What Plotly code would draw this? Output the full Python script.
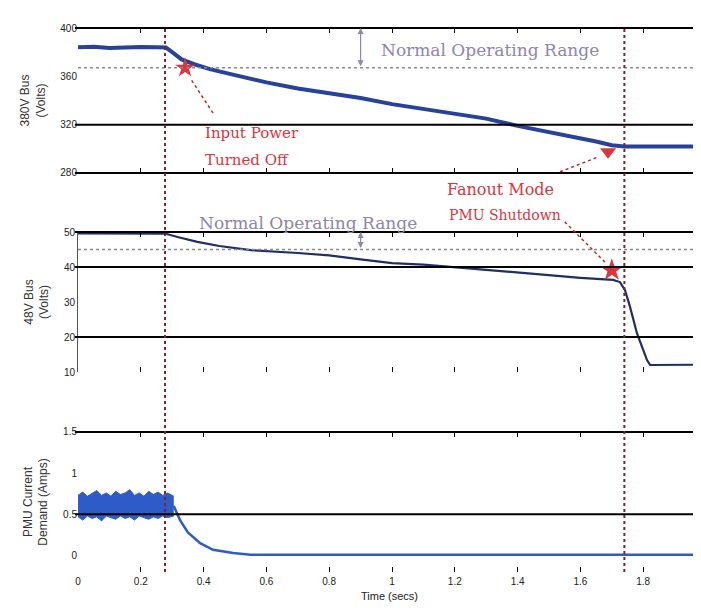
import plotly.graph_objects as go

# ---------------- data ----------------
t_380 = [0, 0.05, 0.10, 0.15, 0.20, 0.25, 0.28, 0.30, 0.33, 0.37, 0.42, 0.50, 0.60, 0.70,
         0.80, 0.90, 1.00, 1.10, 1.20, 1.30, 1.40, 1.50, 1.60, 1.65, 1.70, 1.74, 1.80, 1.90, 1.984]
v_380 = [384, 384.5, 383.5, 384, 384.3, 384, 383.8, 380, 374, 370, 366, 361, 355, 350,
         346, 342, 337, 333, 329, 325, 319, 314, 309, 306, 303, 302, 302, 302, 302]

t_48 = [0, 0.10, 0.20, 0.28, 0.32, 0.38, 0.45, 0.55, 0.70, 0.80, 0.90, 1.00, 1.10, 1.20,
        1.30, 1.40, 1.50, 1.60, 1.704, 1.726, 1.742, 1.758, 1.780, 1.812, 1.822, 1.90, 1.984]
v_48 = [49.6, 49.6, 49.5, 49.5, 48.5, 47.2, 46.0, 44.8, 44.0, 43.3, 42.2, 41.1, 40.7, 39.9,
        39.2, 38.5, 37.7, 36.9, 36.3, 35.7, 33.4, 28.6, 21.1, 13.4, 12.0, 12.1, 12.1]

t_band = [0, 0.015, 0.03, 0.045, 0.06, 0.075, 0.09, 0.105, 0.12, 0.135, 0.15, 0.165, 0.18,
          0.195, 0.21, 0.225, 0.24, 0.255, 0.27, 0.285, 0.305]
i_upper = [0.73, 0.77, 0.72, 0.75, 0.79, 0.73, 0.76, 0.72, 0.78, 0.74, 0.76, 0.80, 0.73,
           0.76, 0.72, 0.78, 0.74, 0.77, 0.73, 0.76, 0.72]
i_lower = [0.47, 0.43, 0.48, 0.45, 0.47, 0.42, 0.48, 0.46, 0.44, 0.48, 0.45, 0.47, 0.43,
           0.48, 0.46, 0.44, 0.47, 0.45, 0.48, 0.46, 0.48]

t_cur = [0.305, 0.325, 0.35, 0.389, 0.43, 0.494, 0.55, 0.70, 0.90, 1.10, 1.30, 1.50, 1.70, 1.90, 1.984]
i_cur = [0.60, 0.43, 0.28, 0.15, 0.07, 0.03, 0.01, 0.01, 0.01, 0.01, 0.01, 0.01, 0.01, 0.01, 0.01]

x_ticks = [0, 0.2, 0.4, 0.6, 0.8, 1.0, 1.2, 1.4, 1.6, 1.8]
x_ticklabels = ["0", "0.2", "0.4", "0.6", "0.8", "1", "1.2", "1.4", "1.6", "1.8"]
y380_ticks = [280, 320, 360, 400]
y48_ticks = [10, 20, 30, 40, 50]
ycur_ticks = [0, 0.5, 1, 1.5]
grid_380 = [400, 320, 280]
grid_48 = [50, 40, 20]
grid_cur = [1.5, 0.5]
normal_380 = 367
normal_48 = 45
t_events = [0.277, 1.74]

X_RANGE = [0, 1.984]
RANGES = {"top": [280, 400], "mid": [10, 50], "bot": [-0.2, 1.5]}
DOMAINS = {"top": [0.7335, 1.0], "mid": [0.3676, 0.625], "bot": [0.0, 0.2574]}

BLUE = "#27429a"
RED = "#d9363e"
GRAYP = "#8d86ad"
FONT = "DejaVu Serif"
TFONT = "Liberation Sans"


def px(t):
    return (t - X_RANGE[0]) / (X_RANGE[1] - X_RANGE[0])


def py(v, panel):
    d0, d1 = DOMAINS[panel]
    r0, r1 = RANGES[panel]
    return d0 + (v - r0) / (r1 - r0) * (d1 - d0)


fig = go.Figure()

# 380 V bus
fig.add_trace(go.Scatter(x=t_380, y=v_380, mode="lines", line=dict(color=BLUE, width=4),
                         xaxis="x", yaxis="y", showlegend=False))
# 48 V bus
fig.add_trace(go.Scatter(x=t_48, y=v_48, mode="lines", line=dict(color="#1f2f66", width=2.2),
                         xaxis="x2", yaxis="y2", showlegend=False))
# PMU current band
fig.add_trace(go.Scatter(x=t_band, y=i_lower, mode="lines", line=dict(color="#2f5bc8", width=1),
                         xaxis="x3", yaxis="y3", showlegend=False))
fig.add_trace(go.Scatter(x=t_band, y=i_upper, mode="lines", line=dict(color="#2f5bc8", width=1),
                         fill="tonexty", fillcolor="#2f5bc8", xaxis="x3", yaxis="y3", showlegend=False))
fig.add_trace(go.Scatter(x=t_cur, y=i_cur, mode="lines", line=dict(color="#2f5bc8", width=2.5),
                         xaxis="x3", yaxis="y3", showlegend=False))

# event markers
fig.add_trace(go.Scatter(x=[0.341], y=[367], mode="markers",
                         marker=dict(symbol="star", size=15, color=RED),
                         xaxis="x", yaxis="y", showlegend=False))
fig.add_trace(go.Scatter(x=[1.688], y=[297.5], mode="markers",
                         marker=dict(symbol="triangle-down", size=14, color=RED),
                         xaxis="x", yaxis="y", showlegend=False))
fig.add_trace(go.Scatter(x=[1.70], y=[39.1], mode="markers",
                         marker=dict(symbol="star", size=17, color=RED),
                         xaxis="x2", yaxis="y2", showlegend=False))

shapes = []
for panel, grid in (("top", grid_380), ("mid", grid_48), ("bot", grid_cur)):
    for g in grid:
        yy = py(g, panel)
        shapes.append(dict(type="line", xref="paper", yref="paper", x0=-0.005, x1=1, y0=yy, y1=yy,
                           line=dict(color="black", width=2)))
for panel, v in (("top", normal_380), ("mid", normal_48)):
    yy = py(v, panel)
    shapes.append(dict(type="line", xref="paper", yref="paper", x0=0, x1=1, y0=yy, y1=yy,
                       line=dict(color="#8a8a8a", width=1.5, dash="dot")))
for te in t_events:
    shapes.append(dict(type="line", xref="paper", yref="paper", x0=px(te), x1=px(te), y0=0, y1=1,
                       line=dict(color="#7a2434", width=2, dash="dot")))
# dashed red pointer lines
shapes.append(dict(type="line", xref="paper", yref="paper",
                   x0=px(0.43), y0=py(329.6, "top"), x1=px(0.357), y1=py(358.6, "top"),
                   line=dict(color="#b0303a", width=1.5, dash="dot")))
shapes.append(dict(type="line", xref="paper", yref="paper",
                   x0=px(1.535), y0=py(281, "top"), x1=px(1.656), y1=py(293.2, "top"),
                   line=dict(color="#b0303a", width=1.5, dash="dot")))
shapes.append(dict(type="line", xref="paper", yref="paper",
                   x0=px(1.55), y0=py(52.9, "mid"), x1=px(1.678), y1=py(41.4, "mid"),
                   line=dict(color="#b0303a", width=1.5, dash="dot")))

annotations = [
    dict(x=1.312, y=381.5, xref="x", yref="y", text="Normal Operating Range", showarrow=False,
         font=dict(family=FONT, size=17, color=GRAYP)),
    dict(x=0.9, y=400, xref="x", yref="y", ax=0.9, ay=normal_380, axref="x", ayref="y",
         text="", showarrow=True, arrowside="end+start", arrowhead=2, arrowsize=1,
         arrowwidth=1.2, arrowcolor=GRAYP),
    dict(x=0.732, y=py(52.7, "mid"), xref="x", yref="paper", text="Normal Operating Range",
         showarrow=False, font=dict(family=FONT, size=17, color=GRAYP)),
    dict(x=0.9, y=50, xref="x2", yref="y2", ax=0.9, ay=normal_48, axref="x2", ayref="y2",
         text="", showarrow=True, arrowside="end+start", arrowhead=2, arrowsize=1,
         arrowwidth=1.2, arrowcolor=GRAYP),
    dict(x=0.398, y=313, xref="x", yref="y", text="Input Power", showarrow=False, xanchor="left",
         font=dict(family=FONT, size=15, color=RED)),
    dict(x=0.398, y=290.5, xref="x", yref="y", text="Turned Off", showarrow=False, xanchor="left",
         font=dict(family=FONT, size=15, color=RED)),
    dict(x=1.169, y=py(276, "top"), xref="x", yref="paper", text="Fanout Mode", showarrow=False,
         xanchor="left", font=dict(family=FONT, size=16, color=RED)),
    dict(x=1.175, y=py(54.9, "mid"), xref="x", yref="paper", text="PMU Shutdown", showarrow=False,
         xanchor="left", font=dict(family=FONT, size=14, color=RED)),
]

xcommon = dict(range=X_RANGE, showgrid=False, zeroline=False, ticks="inside", ticklen=5,
               tickcolor="black", tickvals=x_ticks, ticktext=x_ticklabels, showline=True,
               linecolor="rgba(0,0,0,0)", mirror="ticks",
               tickfont=dict(family=TFONT, size=10, color="#222"))
ycommon = dict(showgrid=False, zeroline=False, ticks="", tickfont=dict(family=TFONT, size=10, color="#222"))

# page body has an 8px margin: offset the figure so the plot area lands where it should
fig.update_layout(
    width=693, height=607,
    margin=dict(l=70, r=0, t=20, b=43),
    plot_bgcolor="white", paper_bgcolor="white",
    xaxis=dict(xcommon, anchor="y", showticklabels=False, matches="x3"),
    xaxis2=dict(xcommon, anchor="y2", showticklabels=False, matches="x3"),
    xaxis3=dict(xcommon, anchor="y3",
                title=dict(text="Time (secs)", standoff=6, font=dict(family=TFONT, size=11, color="#222"))),
    yaxis=dict(ycommon, domain=DOMAINS["top"], range=RANGES["top"], tickvals=y380_ticks, anchor="x",
               title=dict(text="380V Bus<br>(Volts)", standoff=12, font=dict(family=TFONT, size=12, color="#333"))),
    yaxis2=dict(ycommon, domain=DOMAINS["mid"], range=RANGES["mid"], tickvals=y48_ticks, anchor="x2",
                showline=True, linecolor="#555", linewidth=1,
                title=dict(text="48V Bus<br>(Volts)", standoff=12, font=dict(family=TFONT, size=12, color="#333"))),
    yaxis3=dict(ycommon, domain=DOMAINS["bot"], range=RANGES["bot"], tickvals=ycur_ticks, anchor="x3",
                title=dict(text="PMU Current<br>Demand (Amps)", standoff=12, font=dict(family=TFONT, size=12, color="#333"))),
    shapes=shapes,
    annotations=annotations,
)

fig.write_html("out.html")
